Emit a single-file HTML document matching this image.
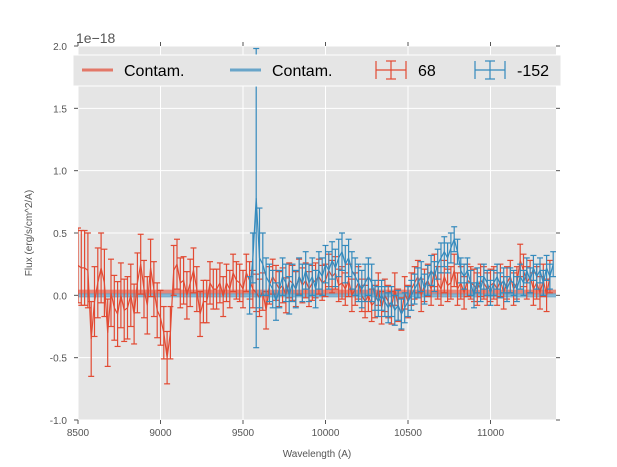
<!DOCTYPE html>
<html><head><meta charset="utf-8">
<style>
html,body{margin:0;padding:0;background:#fff;}
svg{display:block;font-family:"Liberation Sans","DejaVu Sans",sans-serif;}
</style></head>
<body>
<svg id="chart" width="617" height="467" viewBox="0 0 617 467" xmlns="http://www.w3.org/2000/svg">
<rect x="78" y="46" width="478" height="374" fill="#e5e5e5"/>
<g id="grid"></g>
<g id="ticks"></g>
<defs><clipPath id="clip"><rect x="78" y="46" width="478" height="374"/></clipPath></defs>
<g id="series" clip-path="url(#clip)"></g>
<text x="76" y="43" font-size="14" fill="#555">1e−18</text>
<text x="317" y="457" font-size="10" fill="#555" text-anchor="middle">Wavelength (A)</text>
<text transform="translate(32,233) rotate(-90)" font-size="10" fill="#555" text-anchor="middle">Flux (erg/s/cm^2/A)</text>
<g>
<rect x="73" y="55" width="488" height="31" fill="#e5e5e5" stroke="#fff" stroke-width="1"/>
<g>
<line x1="82" y1="70" x2="113" y2="70" stroke="#E24A33" stroke-opacity="0.7" stroke-width="3"/>
<text x="124" y="76" font-size="16" fill="#000">Contam.</text></g>
<g>
<line x1="230" y1="70" x2="261" y2="70" stroke="#348ABD" stroke-opacity="0.7" stroke-width="3"/>
<text x="272" y="76" font-size="16" fill="#000">Contam.</text></g>
<g stroke="#E24A33" stroke-width="1.2">
<line x1="376" y1="70" x2="406" y2="70"/><line x1="376" y1="61" x2="376" y2="79"/><line x1="406" y1="61" x2="406" y2="79"/>
<line x1="391" y1="61" x2="391" y2="79"/><line x1="386" y1="61" x2="396" y2="61"/><line x1="386" y1="79" x2="396" y2="79"/>
<text x="418" y="76" font-size="16" fill="#000" stroke="none">68</text></g>
<g stroke="#348ABD" stroke-width="1.2">
<line x1="475" y1="70" x2="505" y2="70"/><line x1="475" y1="61" x2="475" y2="79"/><line x1="505" y1="61" x2="505" y2="79"/>
<line x1="490" y1="61" x2="490" y2="79"/><line x1="485" y1="61" x2="495" y2="61"/><line x1="485" y1="79" x2="495" y2="79"/>
<text x="517" y="76" font-size="16" fill="#000" stroke="none">-152</text></g>
</g>
</svg>
<script>
const xTicks=[8500,9000,9500,10000,10500,11000];
const yTicks=[-1.0,-0.5,0.0,0.5,1.0,1.5,2.0];
const redStart=8500, redStep=20;
const redValues=[0.24,0.22,0.22,0.2,-0.35,-0.05,0.1,0.22,0.1,-0.3,0.02,-0.1,-0.15,0.0,-0.12,-0.1,0.0,-0.15,0.1,0.25,0.05,-0.08,0.22,0.05,-0.12,
-0.18,-0.3,-0.5,-0.3,0.2,0.25,0.1,0.12,0.0,0.1,0.2,0.05,-0.15,-0.05,-0.05,0.1,0.05,0.05,0.1,-0.01,0.1,0.05,0.18,0.12,0.1,
0.05,0.18,0.12,0.05,0.02,-0.02,0.03,-0.12,0.08,0.15,0.1,0.05,0.08,0.0,0.12,0.1,0.05,0.15,0.08,0.12,0.05,0.1,0.12,0.15,0.1,
0.12,0.2,0.15,0.18,0.08,0.1,0.05,0.12,0.0,0.05,0.1,0.0,-0.05,0.0,-0.08,-0.05,0.05,-0.1,0.0,-0.05,-0.1,0.05,-0.08,-0.15,0.02,
-0.05,0.05,0.1,0.15,0.0,0.08,0.12,0.05,0.2,0.1,0.05,0.15,0.08,0.1,0.2,0.05,0.1,0.02,0.12,0.1,0.08,0.05,0.12,0.1,0.05,
0.08,0.1,0.05,0.12,0.02,0.1,0.15,0.05,0.1,0.28,0.2,0.1,0.15,0.05,0.1,0.02,0.12,0.0,0.15];
const redErrors=[0.3,0.3,0.3,0.3,0.3,0.28,0.28,0.28,0.27,0.27,0.27,0.26,0.26,0.26,0.25,0.25,0.25,0.24,0.24,0.24,0.23,0.23,0.23,0.22,0.22,
0.22,0.21,0.21,0.21,0.2,0.2,0.2,0.19,0.19,0.19,0.18,0.18,0.18,0.17,0.17,0.17,0.16,0.16,0.16,0.16,0.15,0.15,0.15,0.15,0.15,
0.15,0.15,0.15,0.15,0.15,0.15,0.15,0.15,0.15,0.14,0.14,0.14,0.14,0.14,0.14,0.14,0.14,0.14,0.14,0.14,0.14,0.14,0.14,0.14,0.14,
0.13,0.13,0.13,0.13,0.13,0.13,0.13,0.13,0.13,0.13,0.13,0.13,0.13,0.13,0.13,0.13,0.13,0.13,0.13,0.13,0.13,0.13,0.13,0.13,0.13,
0.13,0.13,0.13,0.13,0.13,0.13,0.13,0.13,0.13,0.13,0.13,0.13,0.13,0.13,0.13,0.13,0.13,0.13,0.13,0.13,0.13,0.13,0.13,0.13,0.13,
0.13,0.13,0.13,0.13,0.13,0.13,0.13,0.13,0.13,0.13,0.13,0.13,0.13,0.13,0.13,0.13,0.13,0.13,0.13];
const blueStart=9540, blueStep=20;
const blueValues=[0.0,0.3,0.78,0.3,0.25,0.15,0.1,0.05,-0.05,0.05,0.15,0.1,0.0,0.1,0.05,0.15,0.1,0.2,0.1,0.15,0.05,0.2,0.15,0.25,0.2,0.28,0.22,0.3,0.35,0.25,0.3,0.2,0.15,0.1,0.05,0.1,0.15,0.1,0.0,-0.05,0.0,-0.05,-0.1,-0.05,-0.12,-0.08,-0.15,-0.1,-0.05,0.0,0.05,0.1,0.15,0.05,0.12,0.2,0.15,0.25,0.3,0.35,0.3,0.38,0.45,0.35,0.2,0.15,0.2,0.1,0.0,0.12,0.05,0.15,0.1,0.02,0.1,0.15,0.08,0.12,0.05,0.12,0.1,0.05,0.15,0.1,0.2,0.12,0.22,0.15,0.2,0.1,0.22,0.15,0.25];
const blueErrors=[0.15,0.2,1.2,0.4,0.25,0.15,0.15,0.15,0.15,0.15,0.15,0.15,0.15,0.15,0.15,0.15,0.15,0.15,0.15,0.15,0.15,0.15,0.15,0.15,0.15,0.15,0.15,0.15,0.15,0.15,0.15,0.15,0.15,0.15,0.15,0.15,0.15,0.15,0.12,0.12,0.12,0.12,0.12,0.12,0.12,0.12,0.12,0.12,0.12,0.12,0.12,0.12,0.12,0.12,0.12,0.12,0.12,0.12,0.12,0.12,0.12,0.12,0.1,0.1,0.1,0.1,0.1,0.1,0.1,0.1,0.1,0.1,0.1,0.1,0.1,0.1,0.1,0.1,0.1,0.1,0.1,0.1,0.1,0.1,0.1,0.1,0.1,0.1,0.1,0.1,0.1,0.1,0.1];
const contamRed=0.03, contamBlue=0.0;

const X0=78,X1=556,Y0=46,Y1=420,XMIN=8500,XMAX=11397,YMIN=-1,YMAX=2;
const sx=v=>X0+(v-XMIN)/(XMAX-XMIN)*(X1-X0);
const sy=v=>Y1-(v-YMIN)/(YMAX-YMIN)*(Y1-Y0);
const NS="http://www.w3.org/2000/svg";
function mk(tag,parent,attrs){const e=document.createElementNS(NS,tag);for(const k in attrs)e.setAttribute(k,attrs[k]);parent.appendChild(e);return e;}
const grid=document.getElementById('grid'),ticks=document.getElementById('ticks'),ser=document.getElementById('series');
xTicks.forEach(t=>{
  const g=mk('line',grid,{x1:sx(t),x2:sx(t),y1:Y0,y2:Y1,stroke:'#fff','stroke-width':1});
  
  
  mk('line',ticks,{x1:sx(t),x2:sx(t),y1:Y1,y2:Y1+4,stroke:'#555'});
  mk('line',ticks,{x1:sx(t),x2:sx(t),y1:Y0,y2:Y0-4,stroke:'#555'});
  const l=mk('text',ticks,{x:sx(t),y:Y1+16,'font-size':10,fill:'#555','text-anchor':'middle'});
  l.textContent=t;
  
  
});
yTicks.forEach(t=>{
  const g=mk('line',grid,{x1:X0,x2:X1,y1:sy(t),y2:sy(t),stroke:'#fff','stroke-width':1});
  
  
  mk('line',ticks,{x1:X0-4,x2:X0,y1:sy(t),y2:sy(t),stroke:'#555'});
  mk('line',ticks,{x1:X1,x2:X1+4,y1:sy(t),y2:sy(t),stroke:'#555'});
  const l=mk('text',ticks,{x:X0-11,y:sy(t)+4,'font-size':10,fill:'#555','text-anchor':'end'});
  l.textContent=t.toFixed(1);
  
  
});
function contam(v,color,name){
  const l=mk('line',ser,{x1:X0,x2:X1,y1:sy(v),y2:sy(v),stroke:color,'stroke-opacity':0.6,'stroke-width':4});
  
  
}
function errSeries(start,step,vals,errs,color,name){
  const g=mk('g',ser,{stroke:color,'stroke-width':1.2,fill:'none'});
  
  
  let d='';
  vals.forEach((v,i)=>{
    const x=sx(start+i*step),e=errs[i];
    mk('line',g,{x1:x,x2:x,y1:sy(v-e),y2:sy(v+e)});
    mk('line',g,{x1:x-3,x2:x+3,y1:sy(v-e),y2:sy(v-e)});
    mk('line',g,{x1:x-3,x2:x+3,y1:sy(v+e),y2:sy(v+e)});
    d+=(i?'L':'M')+x.toFixed(1)+','+sy(v).toFixed(1);
  });
  const p=mk('path',g,{d:d});
  
  
}
contam(contamRed,'#E24A33','contam-red-line');
contam(contamBlue,'#348ABD','contam-blue-line');
errSeries(redStart,redStep,redValues,redErrors,'#E24A33','series-68');
errSeries(blueStart,blueStep,blueValues,blueErrors,'#348ABD','series-152');
</script>
</body></html>
